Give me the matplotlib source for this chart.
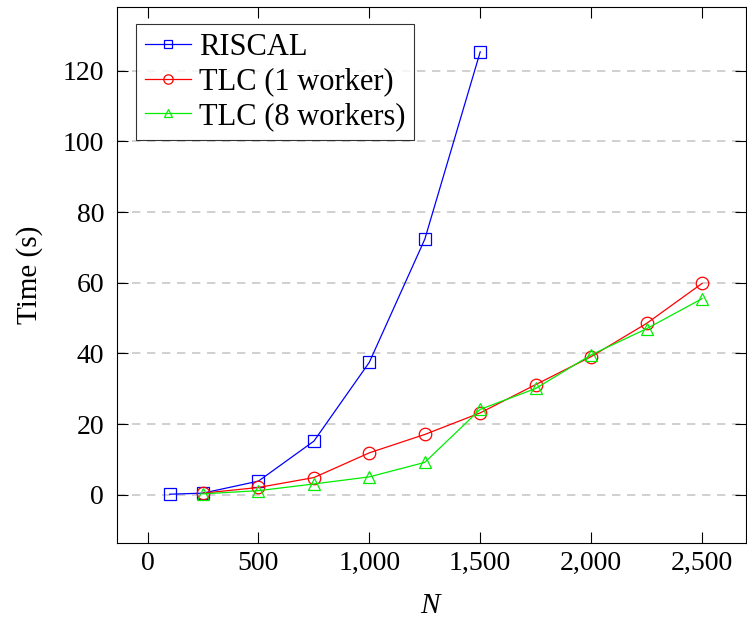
import matplotlib
matplotlib.use("Agg")
import matplotlib.pyplot as plt
from matplotlib.ticker import FuncFormatter, MultipleLocator

plt.rcParams['font.family'] = ['Liberation Serif', 'DejaVu Serif']
plt.rcParams['mathtext.fontset'] = 'custom'
plt.rcParams['mathtext.it'] = 'Liberation Serif:italic'

riscal_n = [100, 250, 500, 750, 1000, 1250, 1500]
riscal_t = [0.2, 0.5, 3.9, 15.2, 37.5, 72.3, 125.3]
tlc1_n = [250, 500, 750, 1000, 1250, 1500, 1750, 2000, 2250, 2500]
tlc1_t = [0.5, 2.1, 4.9, 11.9, 17.1, 23.2, 31.2, 39.1, 48.5, 59.8]
tlc8_n = [250, 500, 750, 1000, 1250, 1500, 1750, 2000, 2250, 2500]
tlc8_t = [0.3, 1.2, 3.1, 5.1, 9.2, 24.2, 30.1, 39.6, 47.0, 55.5]

fig = plt.figure(figsize=(7.47, 6.22), dpi=100)
ax = fig.add_axes([0.1562, 0.127, 0.8424, 0.8613])

ax.plot(riscal_n, riscal_t, color='blue', lw=0.9, marker='s', ms=8.5, mfc='none', mew=0.9, label='RISCAL')
ax.plot(tlc1_n, tlc1_t, color='red', lw=0.9, marker='o', ms=9, mfc='none', mew=0.9, label='TLC (1 worker)')
ax.plot(tlc8_n, tlc8_t, color='#00ee00', lw=0.9, marker='^', ms=8, mfc='none', mew=0.9, label='TLC (8 workers)')

ax.set_xlim(-139, 2698)
ax.set_ylim(-13.6, 137.9)
ax.xaxis.set_major_locator(MultipleLocator(500))
ax.yaxis.set_major_locator(MultipleLocator(20))
ax.xaxis.set_major_formatter(FuncFormatter(lambda v, p: f"{int(v):,}"))
ax.yaxis.grid(True, color='#c8c8c8', ls=(0, (5, 4)), lw=1.2)
ax.set_axisbelow(True)
ax.tick_params(direction='in', top=True, right=True, labelsize=20, length=8, width=0.8)
ax.tick_params(axis='y', pad=9)
ax.tick_params(axis='x', pad=6)
for s in ax.spines.values():
    s.set_linewidth(0.8)

ax.set_xlabel('$N$', fontsize=21, labelpad=12)
ax.set_ylabel('Time (s)', fontsize=21, labelpad=14)

leg = ax.legend(loc='upper left', bbox_to_anchor=(0.0307, 0.9688), borderaxespad=0,
                fontsize=22, frameon=True, fancybox=False, edgecolor='black',
                handlelength=1.5, labelspacing=0.18, borderpad=0.3,
                handletextpad=0.25, markerscale=0.75)
leg.get_frame().set_linewidth(0.8)

fig.savefig('out.png', dpi=100)
